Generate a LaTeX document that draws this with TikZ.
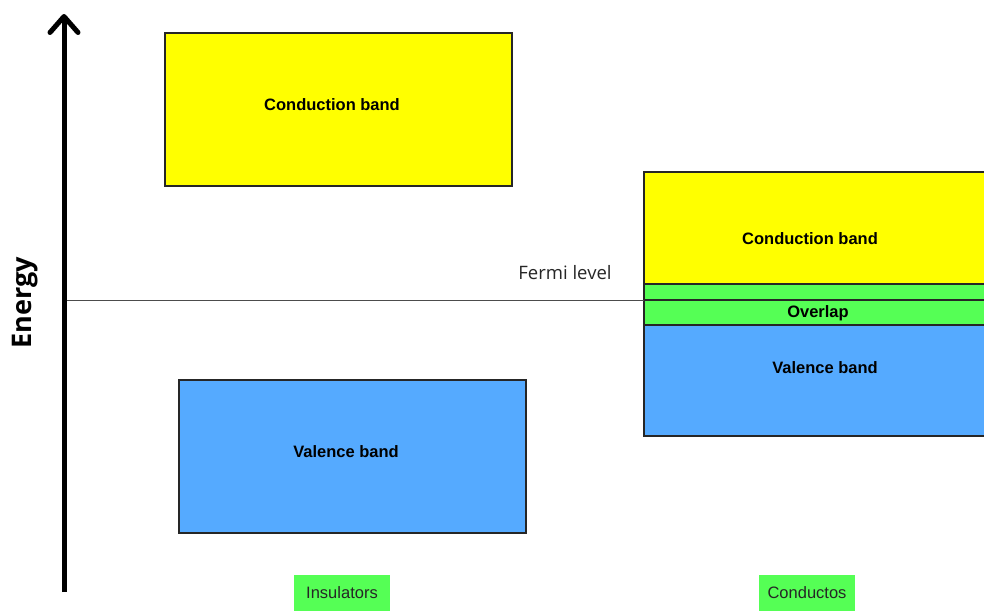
\documentclass[tikz,border=0pt]{standalone}
\usepackage{fontspec}
\setmainfont{Liberation Sans}
\newfontfamily\opensans{Open Sans}
\usetikzlibrary{arrows.meta}
\definecolor{bandyellow}{HTML}{FFFF00}
\definecolor{bandblue}{HTML}{55AAFF}
\definecolor{bandgreen}{HTML}{55FF55}
\tikzset{
  band/.style={draw=black!85, line width=1.3pt, inner sep=0pt, outer sep=0pt},
  bandlabel/.style={font=\fontsize{16.5}{19}\selectfont\bfseries, inner sep=0pt},
  tag/.style={fill=bandgreen, inner sep=0pt, minimum width=96pt, minimum height=36pt, font=\fontsize{16.5}{19}\selectfont, text=black!85},
}
\begin{document}
\begin{tikzpicture}[x=1pt, y=-1pt]
\useasboundingbox (0,0) rectangle (984,611);
\clip (0,0) rectangle (984,611);
% Insulator bands
\node[band, fill=bandyellow, minimum width=347pt, minimum height=153pt] (icb) at (338.5,109.5) {};
\node[bandlabel] (icbl) at (332,105) {Conduction band};
\node[band, fill=bandblue, minimum width=347pt, minimum height=153pt] (ivb) at (352.5,456.5) {};
\node[bandlabel] (ivbl) at (346,452) {Valence band};
% Conductor bands (extend past right edge)
\node[band, fill=bandyellow, minimum width=360pt, minimum height=112pt] (ccb) at (824,228) {};
\node[bandlabel] (ccbl) at (810,239) {Conduction band};
\node[band, fill=bandblue, minimum width=360pt, minimum height=111pt] (cvb) at (824,380.5) {};
\node[bandlabel] (cvbl) at (825,368) {Valence band};
\node[band, fill=bandgreen, minimum width=360pt, minimum height=41pt] (ov) at (824,304.5) {};
\node[bandlabel] (ovl) at (818,313) {Overlap};
% Fermi level
\coordinate (fa) at (64,300);
\coordinate (fb) at (644,300);
\coordinate (fc) at (990,300);
\draw[black!70, line width=1pt] (fa) -- (fb);
\draw[black!85, line width=1.3pt] (fb) -- (fc);
\node[font=\opensans\fontsize{18.5}{21}\selectfont, text=black!85, inner sep=0pt] (fl) at (565,273) {Fermi level};
% Energy axis
\coordinate (ea) at (64,592);
\coordinate (eb) at (64,14);
\draw[line width=5pt, -{Straight Barb[length=16pt, width=28pt, line cap=round, line join=round]}] (ea) -- (eb);
\node[font=\opensans\fontsize{27}{30}\selectfont\bfseries, rotate=90, inner sep=0pt] (en) at (25,303) {Energy};
% Tags
\node[tag] (ins) at (342,593) {Insulators};
\node[tag] (con) at (807,593) {Conductos};
\end{tikzpicture}
\end{document}
